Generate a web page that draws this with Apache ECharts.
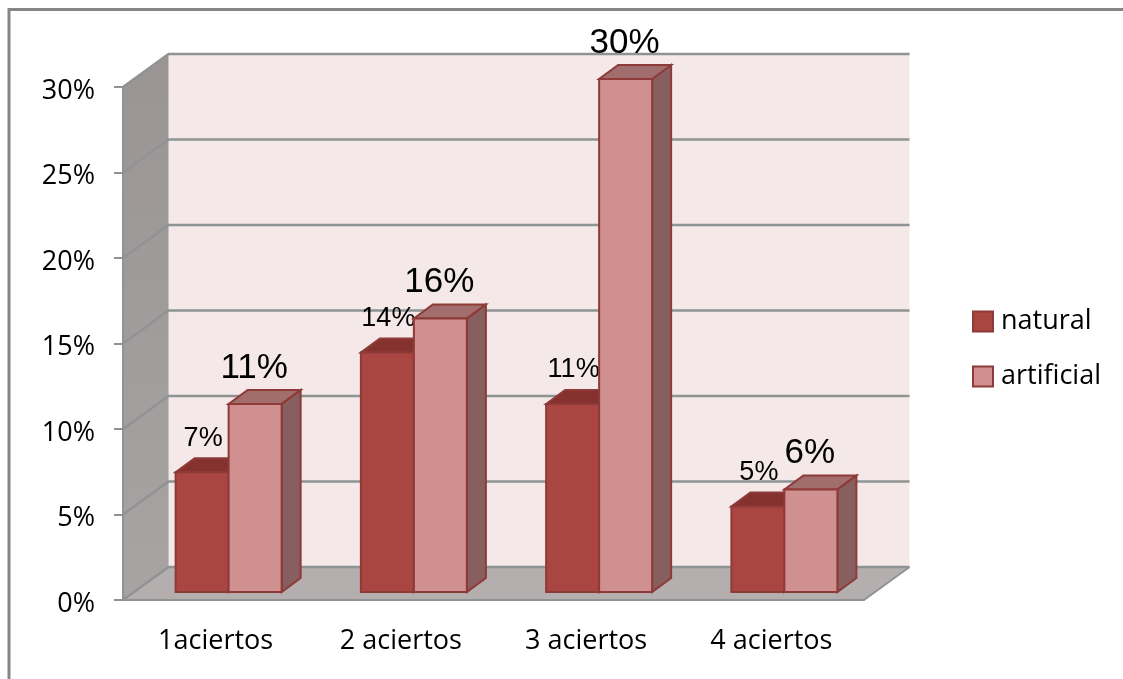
<!DOCTYPE html>
<html><head><meta charset="utf-8">
<style>html,body{margin:0;padding:0;background:#fff}#c{width:1123px;height:679px}</style>
<script src="https://cdn.jsdelivr.net/npm/echarts@6/dist/echarts.min.js"></script>
</head><body><div id="c"></div>
<script>
const categories = ['1aciertos', '2 aciertos', '3 aciertos', '4 aciertos'];
const natural = [7, 14, 11, 5];
const artificial = [11, 16, 30, 6];
const yTicks = [0, 5, 10, 15, 20, 25, 30];

const chart = echarts.init(document.getElementById('c'));
const WALL = [45.5, -33], BAR = [13, -8], DEPTH = [19, -14];
const STROKE = '#8E3A38';

function poly(points, fill, stroke, lw) {
  return { type: 'polygon', shape: { points }, style: { fill, stroke: stroke || null, lineWidth: lw || 0 } };
}
function wallItem(params, api) {
  const cs = params.coordSys;
  const y = api.coord([0, api.value(1)])[1];
  const x0 = cs.x, x1 = cs.x + cs.width, yb = cs.y + cs.height, yt = cs.y;
  const [dx, dy] = WALL;
  const line = { type: 'polyline', shape: { points: [[x0, y], [x0 + dx, y + dy], [x1 + dx, y + dy]] },
    style: { fill: null, stroke: '#8F9393', lineWidth: 2.5 } };
  if (params.dataIndex !== 0) return line;
  const back = poly([[x0 + dx, yt + dy], [x1 + dx, yt + dy], [x1 + dx, yb + dy], [x0 + dx, yb + dy]], '#F4E8E8');
  const left = poly([[x0, yt], [x0 + dx, yt + dy], [x0 + dx, yb + dy], [x0, yb]], {
    type: 'linear', x: 0, y: 0, x2: 0, y2: 1,
    colorStops: [{ offset: 0, color: '#9A9494' }, { offset: 1, color: '#A8A4A4' }] });
  const floor = poly([[x0, yb], [x0 + dx, yb + dy], [x1 + dx, yb + dy], [x1, yb]], '#B5AEAE');
  const edge = { type: 'polyline', shape: { points: [[x1, yb], [x1 + dx, yb + dy]] },
    style: { fill: null, stroke: '#8F9393', lineWidth: 2 } };
  const seam = { type: 'polyline', shape: { points: [[x0 + dx, yt + dy], [x0 + dx, yb + dy]] },
    style: { fill: null, stroke: '#C4C2C2', lineWidth: 1 } };
  return { type: 'group', children: [back, left, floor, seam, edge, line] };
}
function barItem(colors, side, fontSize, labelGap) {
  const frac = 53 / 185.25;
  return function (params, api) {
    const v = api.value(1);
    const p = api.coord([api.value(0), v]);
    const base = api.coord([api.value(0), 0]);
    const w = api.size([1, 0])[0] * frac;
    const xc = p[0] + BAR[0];
    const x0 = side < 0 ? xc - w : xc;
    const x1 = x0 + w;
    const yt = p[1] + BAR[1], yb = base[1] + BAR[1];
    const [dx, dy] = DEPTH;
    return { type: 'group', children: [
      poly([[x1, yt], [x1 + dx, yt + dy], [x1 + dx, yb + dy], [x1, yb]], colors.side, STROKE, 2),
      poly([[x0, yt], [x1, yt], [x1 + dx, yt + dy], [x0 + dx, yt + dy]], colors.top, STROKE, 2),
      poly([[x0, yt], [x1, yt], [x1, yb], [x0, yb]], colors.front, STROKE, 2),
      { type: 'text', z2: 10, style: { text: v + '%', x: (x0 + x1) / 2 + (side < 0 ? 1 : -1), y: yt - labelGap,
          align: 'center', verticalAlign: 'middle', fill: '#000',
          font: fontSize + 'px "Liberation Sans", Arial, sans-serif' } }
    ] };
  };
}
const axisFont = '"Open Sans", "Noto Sans", sans-serif';
chart.setOption({
  animation: false,
  backgroundColor: '#fff',
  grid: { left: 123, top: 87, width: 741, height: 513, containLabel: false },
  legend: {
    orient: 'vertical', left: 972, top: 308, padding: 0, itemWidth: 20, itemHeight: 20, itemGap: 28,
    selectedMode: false, icon: 'rect', itemStyle: { borderWidth: 2, borderColor: STROKE },
    textStyle: { fontFamily: axisFont, fontSize: 27, color: '#000', padding: [0, 0, 0, 3] },
    data: ['natural', 'artificial']
  },
  xAxis: {
    type: 'category', data: categories, z: 2,
    axisLine: { lineStyle: { color: '#8F9393', width: 2 } },
    axisTick: { length: 9, lineStyle: { color: '#8F9393', width: 2 } },
    axisLabel: { fontFamily: axisFont, fontSize: 27, color: '#000', margin: 28 },
    splitLine: { show: false }
  },
  yAxis: {
    type: 'value', min: 0, max: 30, interval: 5, z: 2,
    axisLine: { show: true, lineStyle: { color: '#8F9393', width: 2 } },
    axisTick: { show: true, length: 9, lineStyle: { color: '#8F9393', width: 2 } },
    axisLabel: { color: '#000', margin: 28, formatter: v => '{a|' + v + '%}',
      rich: { a: { fontFamily: axisFont, fontSize: 27, color: '#000', padding: [8, 0, 0, 0] } } },
    splitLine: { show: false }
  },
  graphic: [{ type: 'polyline', silent: true, z: 100,
    shape: { points: [[9, 679], [9, 9.5], [1123, 9.5]] },
    style: { fill: null, stroke: '#868686', lineWidth: 3 } }],
  series: [
    { name: 'walls', type: 'custom', z: 1, silent: true, renderItem: wallItem,
      data: yTicks.map(t => [0, t]) },
    { name: 'natural', type: 'custom', z: 3, itemStyle: { color: '#A94642', borderColor: STROKE, borderWidth: 2 },
      renderItem: barItem({ front: '#A94642', top: '#85322F', side: '#85322F' }, -1, 27, 34),
      data: natural.map((v, i) => [i, v]) },
    { name: 'artificial', type: 'custom', z: 4, itemStyle: { color: '#D09090', borderColor: STROKE, borderWidth: 2 },
      renderItem: barItem({ front: '#D09090', top: '#A16D6D', side: '#885F5F' }, 1, 35, 36),
      data: artificial.map((v, i) => [i, v]) }
  ]
});
</script></body></html>
